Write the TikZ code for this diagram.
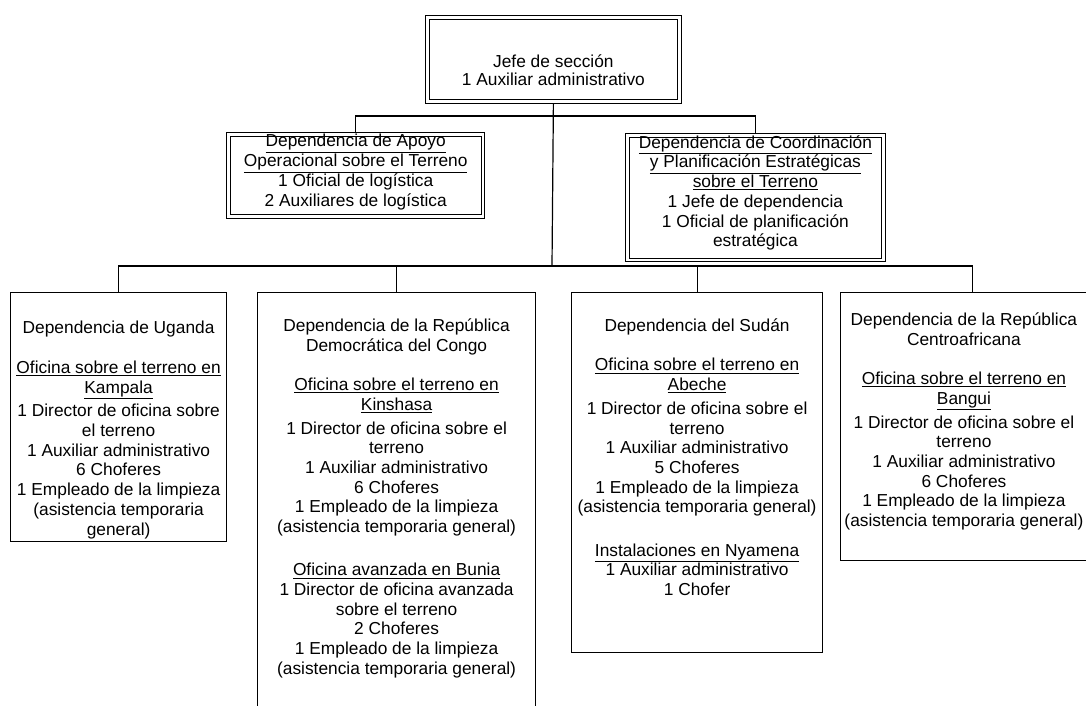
\documentclass[tikz,border=0pt]{standalone}
\usepackage{fontspec}
\setmainfont{Liberation Sans}
\begin{document}
\begin{tikzpicture}[x=0.75pt,y=-0.75pt,
	caja/.style={draw,line width=0.9pt,inner sep=0pt,anchor=north west,font=\fontsize{13}{14.8}\selectfont},
	cajadoble/.style={draw,double,double distance=2pt,line width=0.8pt,inner sep=0pt,outer sep=1.8pt,anchor=north west,font=\fontsize{13}{14.8}\selectfont},
	linea/.style={line width=0.9pt}]
	\useasboundingbox (0,0) rectangle (1086,706);
	% niveles superiores
	\node[cajadoble] (jefe) at (425,15) {\parbox[c][63pt][t]{189pt}{\centering\vspace*{28pt}Jefe de sección\\[-1pt]1 Auxiliar administrativo}};
	\node[cajadoble] (apoyo) at (226,132) {\parbox[c][61.5pt][t]{191pt}{\centering\vspace*{0pt}\underline{Dependencia de Apoyo}\\\underline{Operacional sobre el Terreno}\\1 Oficial de logística\\2 Auxiliares de logística}};
	\node[cajadoble] (coord) at (625,133) {\parbox[c][93.5pt][t]{192pt}{\centering\vspace*{0pt}\underline{Dependencia de Coordinación}\\\underline{y Planificación Estratégicas}\\\underline{sobre el Terreno}\\1 Jefe de dependencia\\1 Oficial de planificación\\estratégica}};
	% dependencias
	\node[caja] (uganda) at (10,292) {\parbox[c][186.75pt][t]{162pt}{\centering\vspace*{21.5pt}Dependencia de Uganda\\[14.8pt]\underline{Oficina sobre el terreno en}\\\underline{Kampala}\\[3pt]1 Director de oficina sobre\\el terreno\\1 Auxiliar administrativo\\6 Choferes\\1 Empleado de la limpieza\\(asistencia temporaria\\general)}};
	\node[caja] (rdc) at (257,292) {\parbox[c][336pt][t]{208.5pt}{\centering\vspace*{19.5pt}Dependencia de la República\\Democrática del Congo\\[14.8pt]\underline{Oficina sobre el terreno en}\\\underline{Kinshasa}\\[3pt]1 Director de oficina sobre el\\terreno\\1 Auxiliar administrativo\\6 Choferes\\1 Empleado de la limpieza\\(asistencia temporaria general)\\[17.5pt]\underline{Oficina avanzada en Bunia}\\1 Director de oficina avanzada\\sobre el terreno\\2 Choferes\\1 Empleado de la limpieza\\(asistencia temporaria general)}};
	\node[caja] (sudan) at (571,292) {\parbox[c][270pt][t]{188.25pt}{\centering\vspace*{19.5pt}Dependencia del Sudán\\[14.8pt]\underline{Oficina sobre el terreno en}\\\underline{Abeche}\\[3pt]1 Director de oficina sobre el\\terreno\\1 Auxiliar administrativo\\5 Choferes\\1 Empleado de la limpieza\\(asistencia temporaria general)\\[17.5pt]\underline{Instalaciones en Nyamena}\\1 Auxiliar administrativo\\1 Chofer}};
	\node[caja] (rca) at (840,292) {\parbox[c][201pt][t]{198pt}{\centering\rightskip=13pt plus 1fil\vspace*{15pt}Dependencia de la República\\Centroafricana\\[14.8pt]\underline{Oficina sobre el terreno en}\\\underline{Bangui}\\[3pt]1 Director de oficina sobre el\\terreno\\1 Auxiliar administrativo\\6 Choferes\\1 Empleado de la limpieza\\(asistencia temporaria general)}};
	% conectores
	\coordinate (nivel1) at (552,116);
	\coordinate (nivel2) at (552,266);
	\draw[linea] (jefe.south) -- (nivel2);
	\draw[linea] (apoyo.north) |- (nivel1) -| (coord.north);
	\draw[linea] (uganda.north) |- (nivel2) -| (rca.north);
	\draw[linea] (rdc.north) -- (rdc.north |- nivel2);
	\draw[linea] (sudan.north) -- (sudan.north |- nivel2);
\end{tikzpicture}
\end{document}
